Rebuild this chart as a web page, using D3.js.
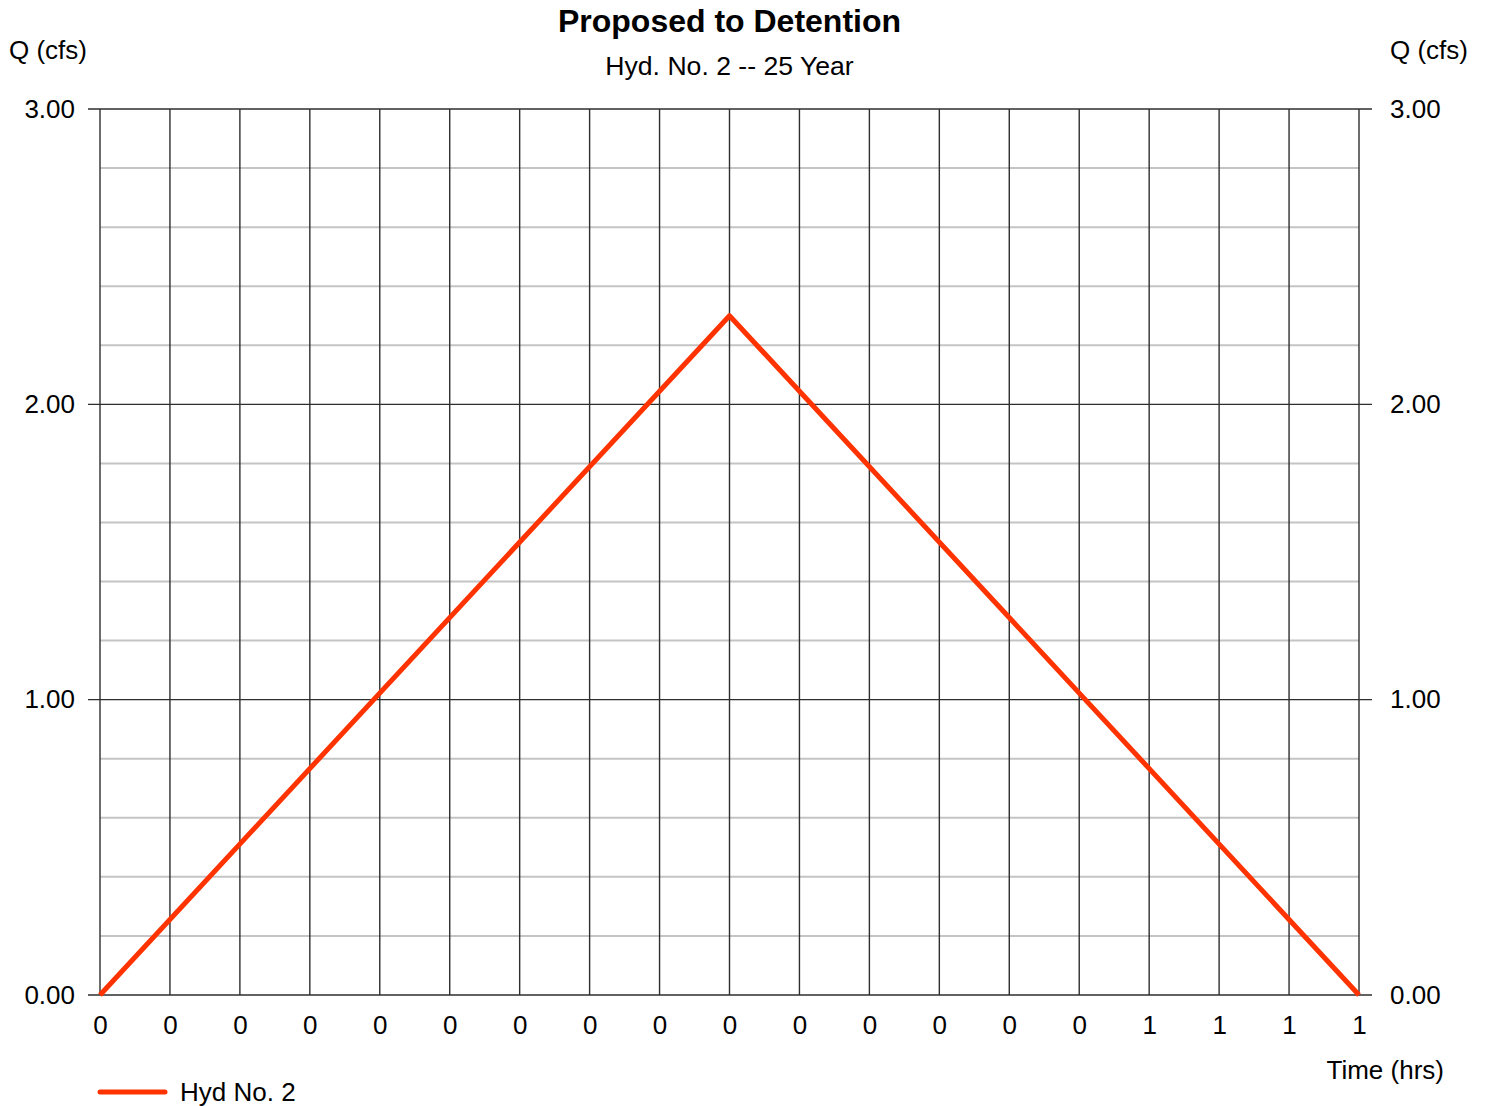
<!DOCTYPE html>
<html>
<head>
<meta charset="utf-8">
<script src="https://cdn.jsdelivr.net/npm/d3@7"></script>
<style>
  html, body { margin: 0; padding: 0; background: #fff; }
  svg { display: block; font-family: "Liberation Sans", Arial, sans-serif; }
</style>
</head>
<body>
<svg id="chart" width="1488" height="1106"></svg>
<script>
// Hydrograph: time (hrs) and discharge Q (cfs)
const hydTime = [0, 0.30, 0.60];
const hydQ = [0, 2.30, 0];

// X axis tick labels (rounded to whole hours by the report)
const xTickLabels = ["0","0","0","0","0","0","0","0","0","0","0","0","0","0","0","1","1","1","1"];
// Y axis ticks
const yMajorTicks = [0, 1, 2, 3];
const yTickLabels = ["0.00", "1.00", "2.00", "3.00"];
const yMinorTicks = [0.2,0.4,0.6,0.8,1.2,1.4,1.6,1.8,2.2,2.4,2.6,2.8];

const title = "Proposed to Detention";
const subtitle = "Hyd. No. 2 -- 25 Year";
const seriesName = "Hyd No. 2";

const svg = d3.select("#chart");
const m = { left: 100, right: 1359, top: 109, bottom: 995 };

const x = d3.scaleLinear().domain([0, 0.60]).range([m.left, m.right]);
const y = d3.scaleLinear().domain([0, 3]).range([m.bottom, m.top]);

const xTickVals = xTickLabels.map((_, i) => i * 0.60 / (xTickLabels.length - 1));

const dark = "#2e2e2e";
const grid = svg.append("g");

// minor horizontal grid
grid.selectAll("line.minor").data(yMinorTicks).join("line")
  .attr("x1", m.left).attr("x2", m.right)
  .attr("y1", d => y(d)).attr("y2", d => y(d))
  .attr("stroke", "#c4c4c4").attr("stroke-width", 2);

// vertical grid
grid.selectAll("line.v").data(xTickVals).join("line")
  .attr("x1", d => x(d)).attr("x2", d => x(d))
  .attr("y1", m.top).attr("y2", m.bottom)
  .attr("stroke", dark).attr("stroke-width", 1.4);

// major horizontal grid with ticks outside on both sides
grid.selectAll("line.major").data(yMajorTicks).join("line")
  .attr("x1", m.left - 12).attr("x2", m.right + 13)
  .attr("y1", d => y(d)).attr("y2", d => y(d))
  .attr("stroke", dark).attr("stroke-width", 1.4);

// Y axis labels, left and right
const yLeft = d3.axisLeft(y).tickValues(yMajorTicks).tickFormat((d, i) => yTickLabels[i]).tickSize(0).tickPadding(25);
const yRight = d3.axisRight(y).tickValues(yMajorTicks).tickFormat((d, i) => yTickLabels[i]).tickSize(0).tickPadding(31);
const xAxis = d3.axisBottom(x).tickValues(xTickVals).tickFormat((d, i) => xTickLabels[i]).tickSize(0).tickPadding(21);

function styleAxis(g) {
  g.select(".domain").remove();
  g.selectAll("text").attr("font-size", 26).attr("fill", "#000")
    .attr("font-family", "'Liberation Sans', Arial, sans-serif");
}
svg.append("g").attr("transform", `translate(${m.left},0)`).call(yLeft).call(styleAxis);
svg.append("g").attr("transform", `translate(${m.right},0)`).call(yRight).call(styleAxis);
svg.append("g").attr("transform", `translate(0,${m.bottom})`).call(xAxis).call(styleAxis);

// Hydrograph line
const line = d3.line().x((d, i) => x(hydTime[i])).y(d => y(d));
svg.append("path").datum(hydQ)
  .attr("d", line)
  .attr("fill", "none")
  .attr("stroke", "#ff3300")
  .attr("stroke-width", 5)
  .attr("stroke-linejoin", "round");

// Titles
svg.append("text").attr("x", (m.left + m.right) / 2).attr("y", 32)
  .attr("text-anchor", "middle").attr("font-size", 32).attr("font-weight", "bold").text(title);
svg.append("text").attr("x", (m.left + m.right) / 2).attr("y", 75)
  .attr("text-anchor", "middle").attr("font-size", 26.6).text(subtitle);

// Axis titles
svg.append("text").attr("x", 9).attr("y", 59).attr("font-size", 26).text("Q (cfs)");
svg.append("text").attr("x", 1390).attr("y", 59).attr("font-size", 26).text("Q (cfs)");
svg.append("text").attr("x", 1444).attr("y", 1079).attr("text-anchor", "end").attr("font-size", 26).text("Time (hrs)");

// Legend
svg.append("line").attr("x1", 100).attr("x2", 165).attr("y1", 1092).attr("y2", 1092)
  .attr("stroke", "#ff3300").attr("stroke-width", 5).attr("stroke-linecap", "round");
svg.append("text").attr("x", 180).attr("y", 1101).attr("font-size", 26).text(seriesName);
</script>
</body>
</html>
